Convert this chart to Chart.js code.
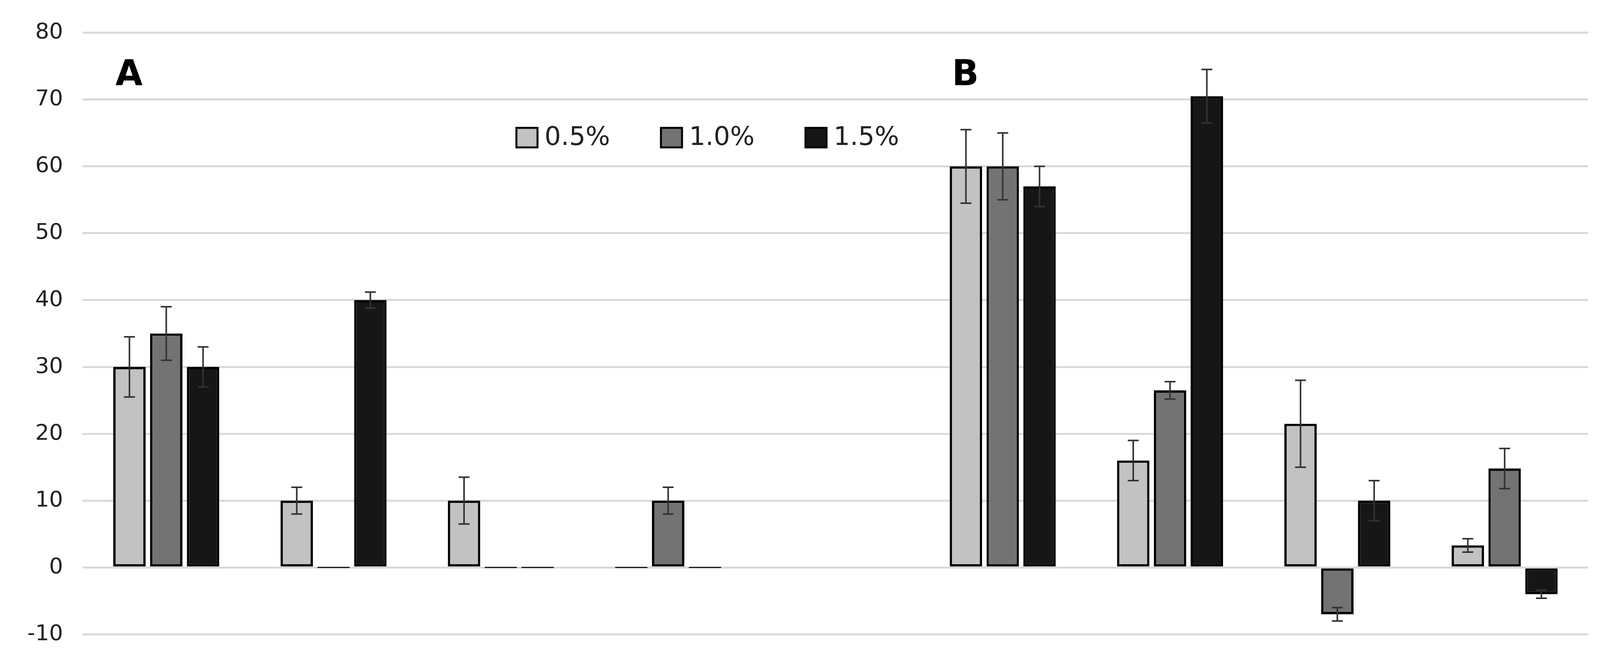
<!DOCTYPE html>
<html>
<head>
<meta charset="utf-8">
<script src="https://cdn.jsdelivr.net/npm/chart.js@4"></script>
<style>
  html, body { margin: 0; padding: 0; background: #fff; overflow: hidden; }
  #wrap { position: relative; width: 100vw; height: 100vh; }
</style>
</head>
<body>
<div id="wrap"><canvas id="chart"></canvas></div>
<script>
const categories = ['A1', 'A2', 'A3', 'A4', '', 'B1', 'B2', 'B3', 'B4'];
const seriesLabels = ['0.5%', '1.0%', '1.5%'];
const values05 = [30, 10, 10, 0, null, 60, 16, 21.5, 3.3];
const values10 = [35, 0, 0, 10, null, 60, 26.5, -7, 14.8];
const values15 = [30, 40, 0, 0, null, 57, 70.5, 10, -4];
const err05 = [4.5, 2, 3.5, 0, null, 5.5, 3, 6.5, 1];
const err10 = [4, 0, 0, 2, null, 5, 1.3, 1, 3];
const err15 = [3, 1.2, 0, 0, null, 3, 4, 3, 0.6];
const panelLabels = [{ text: 'A', index: 0 }, { text: 'B', index: 5 }];
const colors = ['#c2c2c2', '#737373', '#161616'];

const errorBars = {
    id: 'errorBars',
    afterDatasetsDraw(chart) {
        const { ctx } = chart;
        const errs = [err05, err10, err15];
        ctx.save();
        ctx.strokeStyle = '#333';
        ctx.lineWidth = 4;
        chart.data.datasets.forEach((ds, i) => {
            const meta = chart.getDatasetMeta(i);
            meta.data.forEach((bar, j) => {
                const v = ds.data[j];
                const e = errs[i][j];
                if (v === null || !e) return;
                const yScale = chart.scales.y;
                const top = yScale.getPixelForValue(v + e);
                const bot = yScale.getPixelForValue(v - e);
                ctx.beginPath();
                ctx.moveTo(bar.x, top); ctx.lineTo(bar.x, bot);
                ctx.moveTo(bar.x - 14, top); ctx.lineTo(bar.x + 14, top);
                ctx.moveTo(bar.x - 14, bot); ctx.lineTo(bar.x + 14, bot);
                ctx.stroke();
            });
        });
        ctx.restore();
    }
};

const annotations = {
    id: 'annotations',
    afterDraw(chart) {
        const { ctx, scales } = chart;
        ctx.save();
        ctx.fillStyle = '#000';
        ctx.font = 'bold 90px "DejaVu Sans"';
        ctx.textBaseline = 'middle';
        panelLabels.forEach(p => {
            const x = scales.x.getPixelForValue(p.index) - 130;
            ctx.fillText(p.text, x, scales.y.getPixelForValue(73.5));
        });
        // legend
        ctx.font = '66px "DejaVu Sans"';
        let x = 1322;
        const y = scales.y.getPixelForValue(64.3);
        seriesLabels.forEach((lab, i) => {
            ctx.fillStyle = colors[i];
            ctx.fillRect(x, y - 25, 54, 50);
            ctx.strokeStyle = '#000';
            ctx.lineWidth = 5;
            ctx.strokeRect(x, y - 25, 54, 50);
            ctx.fillStyle = '#222';
            ctx.fillText(lab, x + 72, y + 2);
            x += 370;
        });
        ctx.restore();
    }
};

new Chart(document.getElementById('chart'), {
    type: 'bar',
    data: {
        labels: categories,
        datasets: seriesLabels.map((lab, i) => ({
            label: lab,
            data: [values05, values10, values15][i],
            backgroundColor: colors[i],
            borderColor: '#000',
            borderWidth: 6,
            borderSkipped: false,
            minBarLength: 3,
            barPercentage: 0.88,
            categoryPercentage: 0.66
        }))
    },
    options: {
        responsive: true,
        maintainAspectRatio: false,
        animation: false,
        layout: { padding: { top: 60, bottom: 70, right: 30, left: 20 } },
        plugins: { legend: { display: false }, tooltip: { enabled: false } },
        scales: {
            x: {
                ticks: { display: false },
                grid: { display: false },
                border: { display: false }
            },
            y: {
                min: -10, max: 80,
                ticks: { stepSize: 10, color: '#222', font: { size: 56, family: 'DejaVu Sans' }, padding: 50 },
                grid: { color: '#d9d9d9', lineWidth: 5, drawTicks: false },
                border: { display: false }
            }
        }
    },
    plugins: [errorBars, annotations]
});
</script>
</body>
</html>
